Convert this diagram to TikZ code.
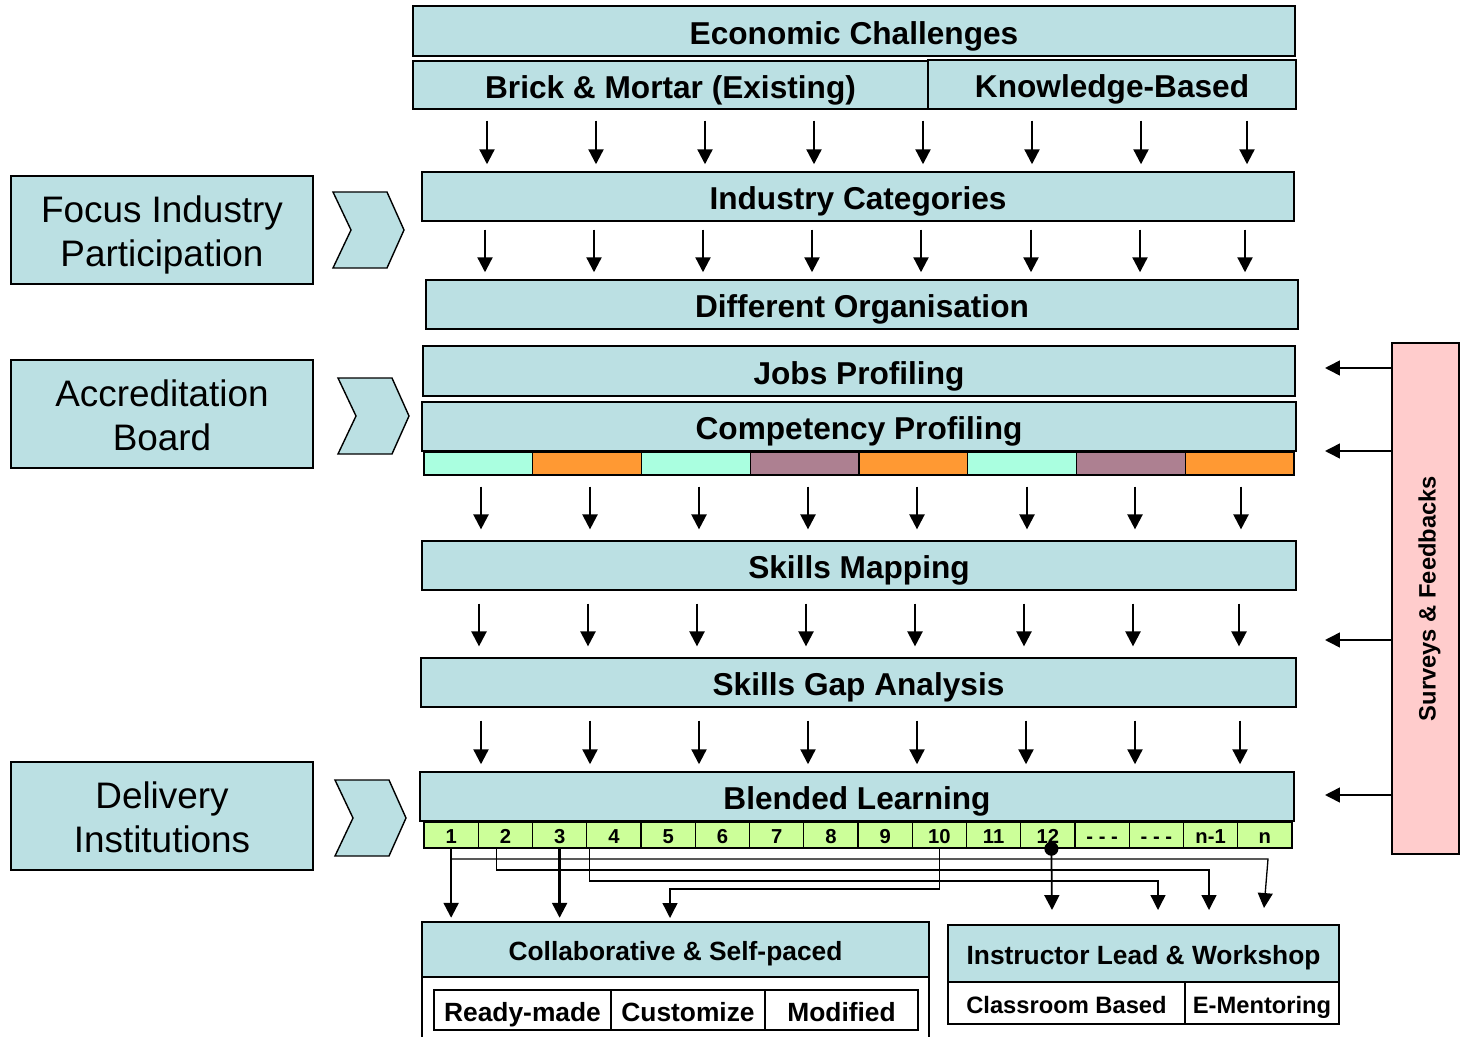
\documentclass[tikz,border=0pt]{standalone}
\usepackage{fontspec}
\setmainfont{Liberation Sans}
\usetikzlibrary{arrows.meta}

\definecolor{boxblue}{RGB}{187,224,227}
\definecolor{pinkbox}{RGB}{255,204,204}
\definecolor{mint}{RGB}{170,255,224}
\definecolor{orangec}{RGB}{255,153,51}
\definecolor{mauve}{RGB}{173,128,145}
\definecolor{lime}{RGB}{204,255,153}

\tikzset{
  size/.style 2 args={minimum width=#1*0.02cm, minimum height=#2*0.02cm},
  bar/.style={draw, line width=0.8pt, fill=boxblue, inner sep=0pt, text height=15.8pt, text depth=0.7pt, font=\bfseries\fontsize{18}{21}\selectfont},
  hdr/.style={bar, text height=13.2pt, text depth=0.6pt, font=\bfseries\fontsize{15}{18}\selectfont},
  side/.style={draw, line width=0.8pt, fill=boxblue, inner sep=0pt, align=center, size={302}{108}, text height=42pt, text depth=0pt, font=\fontsize{21}{25.5}\selectfont},
  cell/.style={draw, line width=0.8pt, inner sep=0pt},
  num/.style={cell, fill=lime, size={54.25}{26}, text height=10.1pt, text depth=0.5pt, font=\bfseries\fontsize{11.5}{13}\selectfont},
  sub/.style={draw, line width=0.8pt, fill=white, inner sep=0pt, text height=13.2pt, text depth=0.6pt, font=\bfseries\fontsize{15}{18}\selectfont},
  subs/.style={sub, text height=11.9pt, text depth=0.5pt, font=\bfseries\fontsize{13.5}{16}\selectfont},
  flow/.style={->, line width=1.3pt},
  link/.style={line width=0.75pt},
  chev/.style={draw, line width=0.8pt, fill=boxblue},
}

\begin{document}
\begin{tikzpicture}[x=0.02cm, y=-0.02cm, >={Triangle[width=8.5pt,length=8.5pt]}]
    \useasboundingbox (0,0) rectangle (1460,1037);

    % Main column
    \node[bar, size={882}{50}] (econ) at (854,31) {Economic Challenges};
    \node[bar, size={515}{48}] (brick) at (670.5,85) {Brick \& Mortar (Existing)};
    \node[bar, size={368}{49}] (know) at (1112,84.5) {Knowledge-Based};
    \node[bar, size={872}{49}] (ind) at (858,196.5) {Industry Categories};
    \node[bar, size={872}{49}] (org) at (862,304.5) {Different Organisation};
    \node[bar, size={872}{50}] (jobs) at (859,371) {Jobs Profiling};
    \node[bar, size={874}{49}] (comp) at (859,426.5) {Competency Profiling};
    \node[bar, size={874}{49}] (map) at (859,565.5) {Skills Mapping};
    \node[bar, size={875}{49}] (gap) at (858.5,682.5) {Skills Gap Analysis};
    \node[bar, size={874}{49}] (blend) at (857,796.5) {Blended Learning};

    % Competency strip
    \foreach \c [count=\i] in {mint,orangec,mint,mauve,orangec,mint,mauve,orangec}
        \node[cell, fill=\c, size={108.75}{23}] (s\i) at ({424+(\i-0.5)*108.75},463.5) {};

    % Numbered modules
    \foreach \t [count=\i] in {1,2,3,4,5,6,7,8,9,10,11,12,- - -,- - -,n-1,n}
        \node[num] (n\i) at ({424+(\i-0.5)*54.25},835) {\t};

    % Side labels
    \node[side] (focus) at (162,230) {Focus Industry\\Participation};
    \node[side] (accr) at (162,414) {Accreditation\\Board};
    \node[side] (deliv) at (162,816) {Delivery\\Institutions};
    \foreach \x/\y in {333/192, 338/378, 335/780}
        \draw[chev] (\x,\y) -- ++(54,0) -- ++(17,38) -- ++(-17,38) -- ++(-54,0) -- ++(18,-38) -- cycle;

    % Surveys
    \node[draw, line width=0.8pt, fill=pinkbox, inner sep=0pt, size={67}{511}] (surv) at (1425.5,598.5) {};
    \node[rotate=90, text height=11.9pt, text depth=0.5pt, font=\bfseries\fontsize{13.5}{16}\selectfont] (survtxt) at (surv.center) {Surveys \& Feedbacks};
    \coordinate (fb1) at (1325,368);
    \coordinate (fb2) at (1325,451);
    \coordinate (fb3) at (1325,640);
    \coordinate (fb4) at (1325,795);
    \foreach \k in {1,...,4}
        \draw[->, line width=0.9pt] (surv.west |- fb\k) -- (fb\k);

    % Delivery modes
    \node[draw, line width=0.8pt, fill=white, inner sep=0pt, size={507}{73}] (collabbase) at (675.5,1013.5) {};
    \node[hdr, size={507}{55}] (collab) at (675.5,949.5) {Collaborative \& Self-paced};
    \node[sub, size={177}{40}] (ready) at (522.5,1010) {Ready-made};
    \node[sub, size={154}{40}] (cust) at (688,1010) {Customize};
    \node[sub, size={153}{40}] (modi) at (841.5,1010) {Modified};
    \node[hdr, size={391}{57}] (instr) at (1143.5,953.5) {Instructor Lead \& Workshop};
    \node[subs, size={237}{42}] (class) at (1066.5,1003) {Classroom Based};
    \node[subs, size={154}{42}] (ement) at (1262,1003) {E-Mentoring};

    % Flow arrows between rows
    \foreach \x in {487,596,705,814,923,1032,1141,1247}
        \draw[flow, shorten <=6.2pt, shorten >=4pt] (brick.south -| \x,0) -- (ind.north -| \x,0);
    \foreach \x in {485,594,703,812,921,1031,1140,1245}
        \draw[flow, shorten <=4.5pt, shorten >=4pt] (ind.south -| \x,0) -- (org.north -| \x,0);
    \foreach \x in {481,590,699,808,917,1027,1135,1241}
        \draw[flow, shorten <=6.2pt, shorten >=6.2pt] (s1.south -| \x,0) -- (map.north -| \x,0);
    \foreach \x in {479,588,697,806,915,1024,1133,1239}
        \draw[flow, shorten <=7.4pt, shorten >=6.2pt] (map.south -| \x,0) -- (gap.north -| \x,0);
    \foreach \x in {481,590,699,808,917,1026,1135,1240}
        \draw[flow, shorten <=7.4pt, shorten >=4pt] (gap.south -| \x,0) -- (blend.north -| \x,0);

    % Module routing
    \coordinate (co3) at (670,918);
    \coordinate (in1) at (1052,910);
    \coordinate (in2) at (1158,910);
    \coordinate (in3) at (1209,910);
    \coordinate (in4) at (1264,908);
    \draw[flow, shorten >=2pt] (n1.south) -- (n1.south |- collab.north);
    \draw[flow, shorten >=2pt] (n3.south) -- (n3.south |- collab.north);
    \draw[link, ->] (n1.south |- 0,859) -- (in4 |- 0,859) -- ++(4,0) -- (in4);
    \draw[link, ->] ([xshift=-5pt]n2.south) |- (in3 |- 0,870) -- (in3);
    \draw[link, ->] ([xshift=2pt]n4.south west) |- (in2 |- 0,881) -- (in2);
    \draw[link, ->] (n10.south) |- (co3 |- 0,889) -- (co3);
    \fill ([xshift=2pt]n12.south) circle (4pt);
    \draw[->, line width=1pt] ([xshift=2pt]n12.south) -- (in1);
\end{tikzpicture}
\end{document}
